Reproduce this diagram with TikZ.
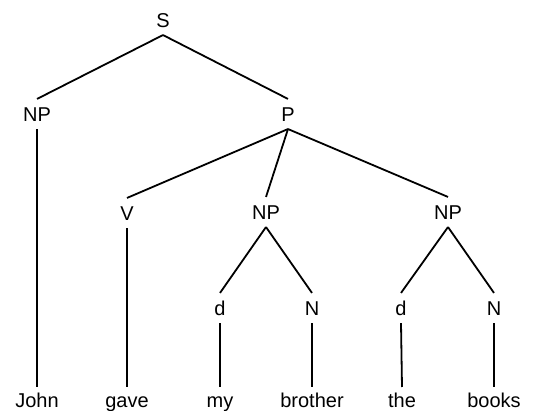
\documentclass[tikz,border=0pt]{standalone}
\usepackage{fontspec}
\setmainfont{Liberation Sans}
\begin{document}
\begin{tikzpicture}[x=1pt, y=-1pt, line width=1.8pt,
    cat/.style={inner xsep=2pt, inner ysep=7pt, text height=14.3pt, text depth=0pt,
      font=\fontsize{20}{22}\selectfont},
    word/.style={anchor=north, inner xsep=2pt, inner ysep=5pt, text height=14.5pt, text depth=4pt,
      font=\fontsize{20}{22}\selectfont}]
    \useasboundingbox (0,0) rectangle (549,411);
    % categories
    \node[cat] (S) at (163,20) {S};
    \node[cat] (np1) at (37,114) {NP};
    \node[cat] (P) at (288,114) {P};
    \node[cat] (V) at (127,213) {V};
    \node[cat] (np2) at (266,212) {NP};
    \node[cat] (np3) at (448,212) {NP};
    \node[cat] (d1) at (220,308) {d};
    \node[cat] (n1) at (312,308) {N};
    \node[cat] (d2) at (401,308) {d};
    \node[cat] (n2) at (494,308) {N};
    % words
    \node[word] (john) at (37,387) {John};
    \node[word] (gave) at (127,387) {gave};
    \node[word] (my) at (220,387) {my};
    \node[word] (brother) at (312,387) {brother};
    \node[word] (the) at (402,387) {the};
    \node[word] (books) at (494,387) {books};
    % branches
    \draw (S.south) -- (np1.north);
    \draw (S.south) -- (P.north);
    \draw (P.south) -- (V.north);
    \draw (P.south) -- (np2.north);
    \draw (P.south) -- (np3.north);
    \draw (np2.south) -- (d1.north);
    \draw (np2.south) -- (n1.north);
    \draw (np3.south) -- (d2.north);
    \draw (np3.south) -- (n2.north);
    \draw (np1.south) -- (john.north);
    \draw (V.south) -- (gave.north);
    \draw (d1.south) -- (my.north);
    \draw (n1.south) -- (brother.north);
    \draw (d2.south) -- (the.north);
    \draw (n2.south) -- (books.north);
\end{tikzpicture}
\end{document}
